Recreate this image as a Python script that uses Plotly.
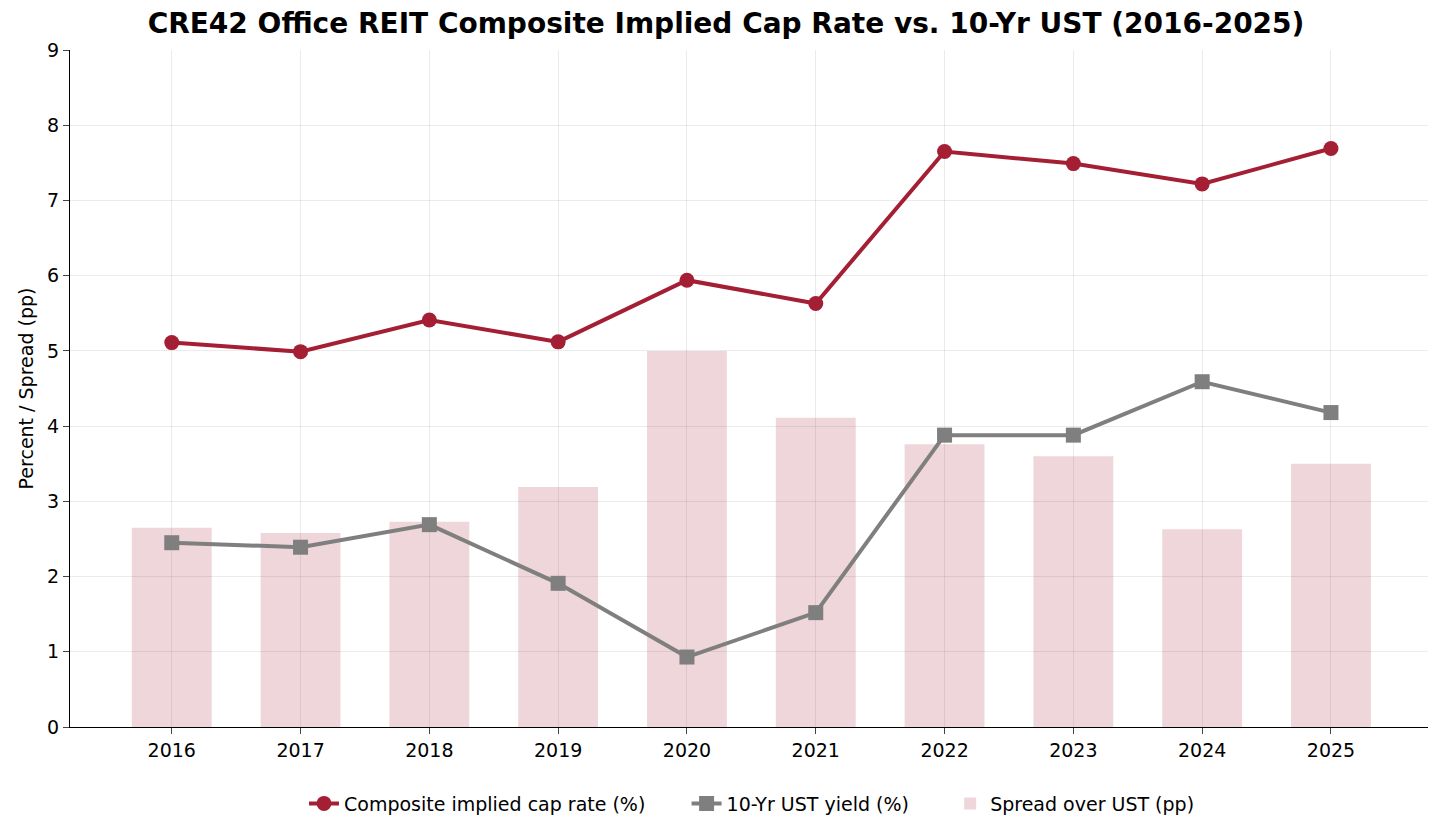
import plotly.graph_objects as go

years = [2016, 2017, 2018, 2019, 2020, 2021, 2022, 2023, 2024, 2025]
cap_rate = [5.11, 4.99, 5.41, 5.12, 5.94, 5.63, 7.65, 7.49, 7.22, 7.69]
ust = [2.45, 2.39, 2.69, 1.91, 0.93, 1.52, 3.88, 3.88, 4.59, 4.18]
spread = [2.65, 2.58, 2.73, 3.19, 5.00, 4.11, 3.76, 3.60, 2.63, 3.50]

fig = go.Figure()
fig.add_trace(go.Scatter(x=years, y=cap_rate, name="Composite implied cap rate (%)      ",
                         mode="lines+markers", line=dict(color="#a41e34", width=4),
                         marker=dict(symbol="circle", size=15, color="#a41e34")))
fig.add_trace(go.Scatter(x=years, y=ust, name="10-Yr UST yield (%)      ",
                         mode="lines+markers", line=dict(color="#7f7f7f", width=4),
                         marker=dict(symbol="square", size=15, color="#7f7f7f")))
fig.add_trace(go.Bar(x=years, y=spread, name="Spread over UST (pp)", width=0.62,
                     marker=dict(color="rgba(164,30,52,0.18)", line=dict(width=0))))

fig.update_layout(
    width=1436, height=828,
    paper_bgcolor="white", plot_bgcolor="white",
    font=dict(family="DejaVu Sans", size=19, color="black"),
    title=dict(text="<b>CRE42 Office REIT Composite Implied Cap Rate vs. 10-Yr UST (2016-2025)</b>",
               x=0.5, xanchor="center", y=0.993, yanchor="top", font=dict(size=28)),
    margin=dict(l=62, r=10, t=42, b=109, autoexpand=False),
    legend=dict(orientation="h", x=0.5, xanchor="center", y=-0.085, yanchor="top",
                traceorder="normal", font=dict(size=19)),
    showlegend=True,
)
fig.update_xaxes(range=[2015.21, 2025.8], tickvals=years, ticks="outside", ticklen=6,
                 tickfont=dict(size=19), automargin=False,
                 showgrid=True, gridcolor="rgba(0,0,0,0.08)", showline=True, linecolor="black",
                 zeroline=False)
fig.update_yaxes(range=[0, 9], dtick=1, ticks="outside", ticklen=6,
                 tickfont=dict(size=19), automargin=False,
                 showgrid=True, gridcolor="rgba(0,0,0,0.08)", showline=True, linecolor="black",
                 zeroline=False, title=dict(text="Percent / Spread (pp)", standoff=8, font=dict(size=19)))
fig.write_html("out.html")
